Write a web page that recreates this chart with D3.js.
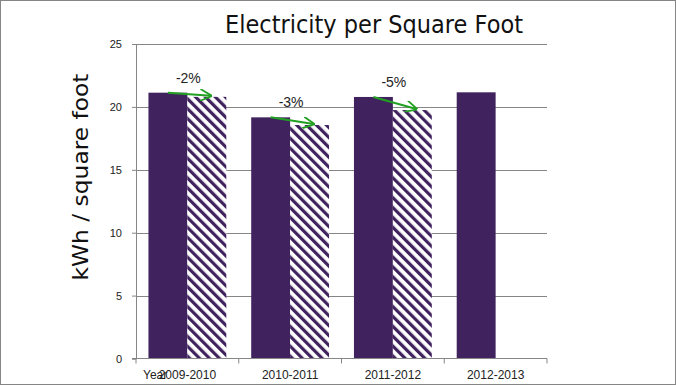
<!DOCTYPE html>
<html>
<head>
<meta charset="utf-8">
<script src="https://cdn.jsdelivr.net/npm/d3@7"></script>
<style>
  body { margin: 0; background: #fff; }
  svg { display: block; }
</style>
</head>
<body>
<div id="chart"></div>
<script>
// values
const years = ['2009-2010', '2010-2011', '2011-2012', '2012-2013'];
const actual = [21.13, 19.17, 20.79, 21.16];
const projected = [20.8, 18.56, 19.75, null];
const changeLabels = ['-2%', '-3%', '-5%', null];
const yTicks = [0, 5, 10, 15, 20, 25];

const width = 676;
const height = 386;
const plot = { left: 136, right: 547, top: 44, bottom: 358.5 };
const purple = '#40235e';
const gray = '#868686';
const green = '#22a022';

const svg = d3.select('#chart').append('svg')
  .attr('width', width)
  .attr('height', height);

const defs = svg.append('defs');

// diagonal stripes for the hatched bars (top-left to bottom-right)
const pattern = defs.append('pattern')
  .attr('id', 'hatch')
  .attr('patternUnits', 'userSpaceOnUse')
  .attr('width', 7)
  .attr('height', 7)
  .attr('patternTransform', 'rotate(-45)');
pattern.append('rect')
  .attr('width', 7).attr('height', 7)
  .attr('fill', '#fff');
pattern.append('rect')
  .attr('x', 0).attr('width', 3.2).attr('height', 7)
  .attr('fill', purple);

defs.append('marker')
  .attr('id', 'arrow')
  .attr('viewBox', '0 0 10 10')
  .attr('refX', 9).attr('refY', 5)
  .attr('markerWidth', 6).attr('markerHeight', 6)
  .attr('markerUnits', 'strokeWidth')
  .attr('orient', 'auto')
  .append('path')
    .attr('d', 'M0,0 L10,5 L0,10')
    .attr('fill', 'none')
    .attr('stroke', green)
    .attr('stroke-width', 1.5);

// outer border
svg.append('rect')
  .attr('x', 0.5).attr('y', 0.5)
  .attr('width', width - 1).attr('height', height - 2)
  .attr('fill', 'none')
  .attr('stroke', gray);

const x = d3.scaleBand()
  .domain(years)
  .range([plot.left, plot.right]);

const xSub = d3.scaleBand()
  .domain(['actual', 'projected'])
  .range([0, x.bandwidth()])
  .paddingInner(0)
  .paddingOuter(0.32);

const y = d3.scaleLinear()
  .domain([0, 25])
  .range([plot.bottom, plot.top]);

// gridlines + y axis
const yAxis = d3.axisLeft(y)
  .tickValues(yTicks)
  .tickSize(4)
  .tickPadding(10);

const gy = svg.append('g')
  .attr('transform', `translate(${plot.left},0)`)
  .call(yAxis);
gy.select('.domain').attr('stroke', gray);
gy.selectAll('.tick line').attr('stroke', gray);
gy.selectAll('.tick text')
  .attr('font-family', 'Liberation Sans, Arial, sans-serif')
  .attr('font-size', 11)
  .attr('fill', '#222');

svg.append('g')
  .selectAll('line')
  .data(yTicks.filter(d => d > 0))
  .enter()
  .append('line')
    .attr('x1', plot.left)
    .attr('x2', plot.right)
    .attr('y1', d => Math.round(y(d)) + 0.5)
    .attr('y2', d => Math.round(y(d)) + 0.5)
    .attr('stroke', gray);

// bars
const groups = svg.append('g')
  .selectAll('g')
  .data(years)
  .enter()
  .append('g')
    .attr('transform', d => `translate(${x(d)},0)`);

groups.append('rect')
  .attr('x', xSub('actual'))
  .attr('width', xSub.bandwidth())
  .attr('y', (d, i) => y(actual[i]))
  .attr('height', (d, i) => y(0) - y(actual[i]))
  .attr('fill', purple);

groups.filter((d, i) => projected[i] != null)
  .append('rect')
    .attr('x', xSub('projected'))
    .attr('width', xSub.bandwidth())
    .attr('y', d => y(projected[years.indexOf(d)]))
    .attr('height', d => y(0) - y(projected[years.indexOf(d)]))
    .attr('fill', 'url(#hatch)');

// x axis
const xAxis = d3.axisBottom(x).tickSize(0).tickPadding(12);
const gx = svg.append('g')
  .attr('transform', `translate(0,${plot.bottom})`);

gx.append('text')
  .attr('x', 143)
  .attr('y', 20.5)
  .attr('text-anchor', 'start')
  .attr('font-family', 'Liberation Sans, Arial, sans-serif')
  .attr('font-size', 12)
  .attr('fill', '#222')
  .text('Year');

gx.call(xAxis);
gx.select('.domain').remove();
gx.append('line')
  .attr('x1', plot.left - 4).attr('x2', plot.right)
  .attr('stroke', gray);
gx.selectAll('.boundary')
  .data(years.concat(['end']))
  .enter()
  .append('line')
    .attr('class', 'boundary')
    .attr('x1', (d, i) => i < years.length ? x(d) : plot.right)
    .attr('x2', (d, i) => i < years.length ? x(d) : plot.right)
    .attr('y1', 0).attr('y2', 5)
    .attr('stroke', gray);
gx.selectAll('.tick text')
  .attr('font-family', 'Liberation Sans, Arial, sans-serif')
  .attr('font-size', 12)
  .attr('fill', '#222');

// change arrows and labels
const changes = years
  .map((d, i) => ({ year: d, a: actual[i], p: projected[i], label: changeLabels[i] }))
  .filter(d => d.p != null);

svg.append('g')
  .selectAll('line')
  .data(changes)
  .enter()
  .append('line')
    .attr('x1', d => x(d.year) + xSub('actual') + xSub.bandwidth() / 2)
    .attr('y1', d => y(d.a))
    .attr('x2', d => x(d.year) + xSub('projected') + xSub.bandwidth() / 2 + 4)
    .attr('y2', d => y(d.p) - 1)
    .attr('stroke', green)
    .attr('stroke-width', 2)
    .attr('marker-end', 'url(#arrow)');

svg.append('g')
  .selectAll('text')
  .data(changes)
  .enter()
  .append('text')
    .attr('x', d => x(d.year) + x.bandwidth() / 2 + 1)
    .attr('y', d => y(d.a) - 10)
    .attr('text-anchor', 'middle')
    .attr('font-family', 'Liberation Sans, Arial, sans-serif')
    .attr('font-size', 14)
    .attr('fill', '#222')
    .text(d => d.label);

// titles
svg.append('text')
  .attr('x', 374)
  .attr('y', 33)
  .attr('text-anchor', 'middle')
  .attr('font-family', 'DejaVu Sans, sans-serif')
  .attr('font-size', 24)
  .attr('textLength', 298)
  .attr('lengthAdjust', 'spacingAndGlyphs')
  .attr('fill', '#111')
  .text('Electricity per Square Foot');

svg.append('text')
  .attr('transform', 'translate(88,177) rotate(-90)')
  .attr('text-anchor', 'middle')
  .attr('font-family', 'DejaVu Sans, sans-serif')
  .attr('font-size', 22)
  .attr('textLength', 207)
  .attr('lengthAdjust', 'spacingAndGlyphs')
  .attr('fill', '#111')
  .text('kWh / square foot');
</script>
</body>
</html>
